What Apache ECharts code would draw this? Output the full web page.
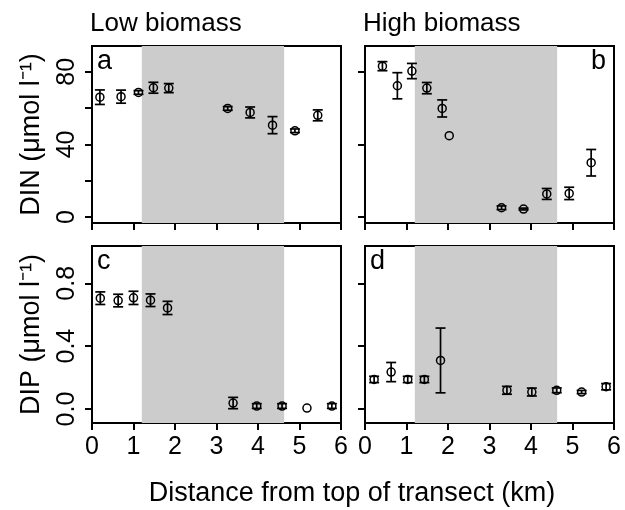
<!DOCTYPE html>
<html>
<head>
<meta charset="utf-8">
<script src="https://cdn.jsdelivr.net/npm/echarts@6/dist/echarts.min.js"></script>
<style>html,body{margin:0;padding:0;background:#fff}#c{width:625px;height:510px}</style>
</head>
<body>
<div id="c"></div>
<script>
// ---- data ----
const shadeRange = [1.2, 4.63]; // km, shaded zone

const distA = [0.19, 0.70, 1.12, 1.48, 1.85, 3.27, 3.81, 4.35, 4.89, 5.44];
const dinLow = [66.0, 66.3, 68.6, 71.2, 71.0, 59.8, 57.6, 50.6, 47.5, 56.0];
const dinLowErr = [4.0, 3.6, 1.0, 3.0, 2.5, 1.0, 3.0, 4.7, 1.0, 3.0];

const distB = [0.42, 0.78, 1.13, 1.49, 1.86, 2.03, 3.29, 3.82, 4.38, 4.92, 5.45];
const dinHigh = [83.1, 72.3, 80.4, 71.0, 59.8, 44.8, 5.1, 4.4, 12.7, 13.0, 29.9];
const dinHighErr = [2.5, 7.2, 4.2, 3.1, 4.7, 0, 1.0, 0.5, 3.0, 3.4, 7.3];

const distC = [0.20, 0.63, 1.00, 1.41, 1.82, 3.40, 3.97, 4.58, 5.18, 5.78];
const dipLow = [0.705, 0.690, 0.707, 0.692, 0.643, 0.038, 0.019, 0.019, 0.006, 0.019];
const dipLowErr = [0.040, 0.040, 0.042, 0.040, 0.042, 0.036, 0.015, 0.015, 0, 0.015];

const distD = [0.22, 0.63, 1.03, 1.43, 1.82, 3.42, 4.02, 4.62, 5.22, 5.81];
const dipHigh = [0.188, 0.235, 0.188, 0.188, 0.309, 0.119, 0.108, 0.119, 0.108, 0.142];
const dipHighErr = [0.020, 0.061, 0.020, 0.020, 0.206, 0.025, 0.025, 0.015, 0.010, 0.020];

const xTicks = [0, 1, 2, 3, 4, 5, 6];
const dinTicks = [0, 20, 40, 60, 80];
const dinLabels = [0, 40, 80];
const dinTicksB = [0, 40, 80];
const dipTicks = [0, 0.4, 0.8];

const panelLetters = ['a', 'b', 'c', 'd'];
const colTitles = ['Low biomass', 'High biomass'];

// ---- chart ----
const FONT = "'Liberation Sans', Arial, Helvetica, sans-serif";
const FS = 25;
const chart = echarts.init(document.getElementById('c'), null, {renderer: 'canvas'});

const L1 = 92, L2 = 365, T1 = 46, T2 = 246, W = 249, H = 177;
const LW = 2;
const grids = [
  {left: L1, top: T1, width: W, height: H},
  {left: L2, top: T1, width: W, height: H},
  {left: L1, top: T2, width: W, height: H},
  {left: L2, top: T2, width: W, height: H}
].map(g => Object.assign(g, {show: true, borderColor: '#000', borderWidth: LW, backgroundColor: 'transparent', containLabel: false}));

function xAx(i, labels) {
  return {
    type: 'value', gridIndex: i, min: 0, max: 6, interval: 1,
    splitLine: {show: false},
    axisLine: {show: true, onZero: false, lineStyle: {color: '#000', width: LW}},
    axisTick: {show: true, length: 7, lineStyle: {color: '#000', width: LW}, customValues: xTicks},
    axisLabel: {show: labels, margin: 12, fontSize: FS, fontFamily: FONT, color: '#000', customValues: xTicks}
  };
}
function yAx(i, min, max, ticks, labels, fmt, name) {
  return {
    type: 'value', gridIndex: i, min: min, max: max,
    splitLine: {show: false},
    axisLine: {show: true, onZero: false, lineStyle: {color: '#000', width: LW}},
    axisTick: {show: true, length: 7, lineStyle: {color: '#000', width: LW}, customValues: ticks},
    axisLabel: {show: !!labels, rotate: 90, margin: 12, fontSize: FS, fontFamily: FONT, color: '#000',
      customValues: labels || ticks, formatter: fmt},
    name: name || '', nameLocation: 'middle', nameRotate: 90, nameGap: 47,
    nameTextStyle: {fontSize: 27, fontFamily: FONT, color: '#000'}
  };
}

const DINMIN = -3.3, DINMAX = 94.2, DIPMIN = -0.089, DIPMAX = 1.037;

function shade(i) {
  return {
    type: 'custom', xAxisIndex: i, yAxisIndex: i, z: 1, silent: true,
    data: [shadeRange],
    renderItem: function (params, api) {
      const p0 = api.coord([api.value(0), 0]);
      const p1 = api.coord([api.value(1), 0]);
      const cs = params.coordSys;
      return {type: 'rect', shape: {x: p0[0], y: cs.y, width: p1[0] - p0[0], height: cs.height},
        style: {fill: '#cccccc'}};
    }
  };
}
function errBars(i, xs, ys, es) {
  const data = xs.map((x, k) => [x, ys[k], es[k]]);
  return {
    type: 'custom', xAxisIndex: i, yAxisIndex: i, z: 3, silent: true,
    data: data,
    renderItem: function (params, api) {
      const x = api.value(0), y = api.value(1), e = api.value(2);
      if (!e) return null;
      const top = api.coord([x, y + e]);
      const bot = api.coord([x, y - e]);
      const hw = 5;
      const st = {stroke: '#000', lineWidth: 1.7};
      return {type: 'group', children: [
        {type: 'line', shape: {x1: top[0], y1: top[1], x2: bot[0], y2: bot[1]}, style: st},
        {type: 'line', shape: {x1: top[0] - hw, y1: top[1], x2: top[0] + hw, y2: top[1]}, style: st},
        {type: 'line', shape: {x1: bot[0] - hw, y1: bot[1], x2: bot[0] + hw, y2: bot[1]}, style: st}
      ]};
    }
  };
}
function pts(i, xs, ys) {
  return {
    type: 'scatter', xAxisIndex: i, yAxisIndex: i, z: 4, silent: true,
    symbol: 'circle', symbolSize: 8,
    itemStyle: {color: 'rgba(0,0,0,0)', borderColor: '#000', borderWidth: 1.5, opacity: 1},
    data: xs.map((x, k) => [x, ys[k]])
  };
}

const fmt1 = v => Number(v).toFixed(1);
const fmt0 = v => String(Math.round(v));

const option = {
  animation: false,
  backgroundColor: '#fff',
  grid: grids,
  xAxis: [xAx(0, false), xAx(1, false), xAx(2, true), xAx(3, true)],
  yAxis: [
    yAx(0, DINMIN, DINMAX, dinTicks, dinLabels, fmt0, 'DIN (μmol l⁻¹)'),
    yAx(1, DINMIN, DINMAX, dinTicksB, null, fmt0),
    yAx(2, DIPMIN, DIPMAX, dipTicks, dipTicks, fmt1, 'DIP (μmol l⁻¹)'),
    yAx(3, DIPMIN, DIPMAX, dipTicks, null, fmt1)
  ],
  series: [
    shade(0), shade(1), shade(2), shade(3),
    errBars(0, distA, dinLow, dinLowErr), pts(0, distA, dinLow),
    errBars(1, distB, dinHigh, dinHighErr), pts(1, distB, dinHigh),
    errBars(2, distC, dipLow, dipLowErr), pts(2, distC, dipLow),
    errBars(3, distD, dipHigh, dipHighErr), pts(3, distD, dipHigh)
  ],
  graphic: [
    {type: 'text', left: 90, top: 11, style: {text: colTitles[0], font: '26px ' + FONT, fill: '#000'}},
    {type: 'text', left: 363, top: 11, style: {text: colTitles[1], font: '26px ' + FONT, fill: '#000'}},
    {type: 'text', left: 97, top: 48, style: {text: panelLetters[0], font: '27px ' + FONT, fill: '#000'}},
    {type: 'text', right: 625 - 606, top: 48, style: {text: panelLetters[1], font: '27px ' + FONT, fill: '#000'}},
    {type: 'text', left: 97, top: 248, style: {text: panelLetters[2], font: '27px ' + FONT, fill: '#000'}},
    {type: 'text', left: 370, top: 248, style: {text: panelLetters[3], font: '27px ' + FONT, fill: '#000'}},
    {type: 'text', x: 352, y: 494, style: {text: 'Distance from top of transect (km)', font: '27px ' + FONT, fill: '#000', textAlign: 'center', textVerticalAlign: 'middle'}}
  ]
};
chart.setOption(option);
</script>
</body>
</html>
